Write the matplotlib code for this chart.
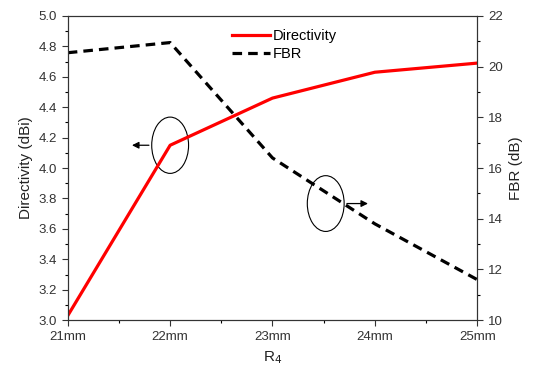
import numpy as np
import matplotlib.pyplot as plt
from matplotlib.patches import Ellipse
from matplotlib.ticker import MultipleLocator

plt.rcParams['font.family'] = ['Liberation Sans', 'DejaVu Sans']

categories = ["21mm", "22mm", "23mm", "24mm", "25mm"]
directivity = [3.03, 4.15, 4.46, 4.63, 4.69]
fbr = [20.55, 20.95, 16.4, 13.8, 11.6]

x = np.arange(len(categories))

fig = plt.figure(figsize=(5.38, 3.71), dpi=100)
ax1 = fig.add_axes([0.126, 0.137, 0.761, 0.82])
ax2 = ax1.twinx()

l1, = ax1.plot(x, directivity, color="#ff0000", linewidth=2.3, label="Directivity")
l2, = ax2.plot(x, fbr, color="black", linewidth=2.3, linestyle=(0, (3.0, 1.9)), label="FBR")

ax1.set_xlim(0, 4)
ax1.set_ylim(3.0, 5.0)
ax2.set_ylim(10, 22)
ax1.set_xticks(x)
ax1.set_xticklabels(categories)
ax1.xaxis.set_minor_locator(MultipleLocator(0.5))
ax1.yaxis.set_major_locator(MultipleLocator(0.2))
ax1.yaxis.set_minor_locator(MultipleLocator(0.1))
ax2.yaxis.set_major_locator(MultipleLocator(2))
ax2.yaxis.set_minor_locator(MultipleLocator(1))

for ax in (ax1, ax2):
    ax.tick_params(which="major", length=4, width=0.8, labelsize=9.5, colors="#333333", pad=4)
    ax.tick_params(which="minor", length=2, width=0.8)
    for s in ax.spines.values():
        s.set_color("#333333")
ax1.yaxis.set_major_formatter(plt.FormatStrFormatter("%.1f"))

ax1.set_xlabel("R$_4$", fontsize=11, color="#222222")
ax1.set_ylabel("Directivity (dBi)", fontsize=11, color="#222222")
ax2.set_ylabel("FBR (dB)", fontsize=11, color="#222222")

ax1.legend(handles=[l1, l2], loc="upper center", bbox_to_anchor=(0.53, 1.0),
           frameon=False, fontsize=10.5, handlelength=2.6, handletextpad=0.2,
           labelspacing=0.25)

# circled markers with arrows pointing to each axis
e1 = Ellipse((1.0, 4.15), 0.36, 0.37, fill=False, edgecolor="black", linewidth=0.8)
ax1.add_patch(e1)
ax1.annotate("", xy=(0.6, 4.15), xytext=(0.82, 4.15),
             arrowprops=dict(arrowstyle="-|>", color="black", lw=0.9, mutation_scale=10))
e2 = Ellipse((2.52, 14.6), 0.36, 2.2, fill=False, edgecolor="black", linewidth=0.8)
ax2.add_patch(e2)
ax2.annotate("", xy=(2.96, 14.6), xytext=(2.70, 14.6),
             arrowprops=dict(arrowstyle="-|>", color="black", lw=0.9, mutation_scale=10))

fig.savefig("out.png", dpi=100)
